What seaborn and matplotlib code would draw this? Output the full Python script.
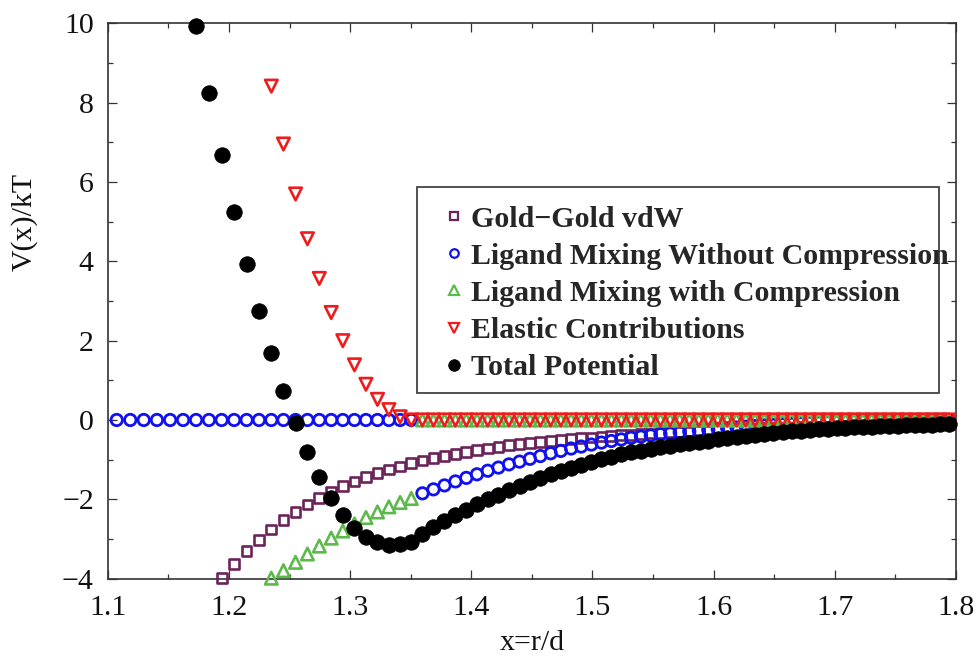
import numpy as np
import pandas as pd
import seaborn as sns
import matplotlib
matplotlib.use("Agg")
import matplotlib.pyplot as plt
from matplotlib.lines import Line2D
from matplotlib.patches import Rectangle
from matplotlib.ticker import MultipleLocator

nan = np.nan

# reduced centre-to-centre distance x = r/d
x_ratio = [
    1.1074, 1.1186, 1.1297, 1.1406, 1.1515, 1.1622, 1.1729, 1.1835, 1.1940, 1.2043,
    1.2146, 1.2248, 1.2350, 1.2450, 1.2550, 1.2648, 1.2746, 1.2844, 1.2940, 1.3036,
    1.3131, 1.3226, 1.3320, 1.3413, 1.3505, 1.3597, 1.3688, 1.3779, 1.3869, 1.3959,
    1.4047, 1.4136, 1.4224, 1.4311, 1.4398, 1.4484, 1.4570, 1.4655, 1.4739, 1.4824,
    1.4907, 1.4991, 1.5074, 1.5156, 1.5238, 1.5319, 1.5400, 1.5481, 1.5561, 1.5641,
    1.5720, 1.5799, 1.5878, 1.5956, 1.6034, 1.6112, 1.6189, 1.6265, 1.6342, 1.6418,
    1.6493, 1.6569, 1.6644, 1.6718, 1.6793, 1.6867, 1.6940, 1.7014, 1.7087, 1.7159,
    1.7232, 1.7304, 1.7376, 1.7447, 1.7518, 1.7589, 1.7660, 1.7730, 1.7800, 1.7870,
    1.7940,
]

# V(x)/kT contributions (nan = outside the plotted range)
vdw_gold = [
    nan, nan, nan, nan, nan, nan, nan, nan, -3.99, -3.63,
    -3.31, -3.02, -2.76, -2.53, -2.32, -2.13, -1.96, -1.81, -1.67, -1.55,
    -1.44, -1.34, -1.25, -1.17, -1.09, -1.02, -0.96, -0.90, -0.85, -0.80,
    -0.76, -0.72, -0.68, -0.64, -0.61, -0.58, -0.55, -0.53, -0.50, -0.48,
    -0.46, -0.44, -0.42, -0.40, -0.38, -0.37, -0.35, -0.34, -0.32, -0.31,
    -0.30, -0.29, -0.28, -0.27, -0.26, -0.25, -0.24, -0.23, -0.22, -0.21,
    -0.205, -0.20, -0.19, -0.185, -0.18, -0.175, -0.17, -0.165, -0.16, -0.155,
    -0.15, -0.145, -0.14, -0.135, -0.13, -0.125, -0.12, -0.12, -0.115, -0.11,
    -0.11,
]

mixing_free = [
    0.0, 0.0, 0.0, 0.0, 0.0, 0.0, 0.0, 0.0, 0.0, 0.0,
    0.0, 0.0, 0.0, 0.0, 0.0, 0.0, 0.0, 0.0, 0.0, 0.0,
    0.0, 0.0, 0.0, 0.0, 0.0, -1.85, -1.75, -1.65, -1.55, -1.46,
    -1.37, -1.28, -1.20, -1.12, -1.05, -0.98, -0.91, -0.84, -0.78, -0.72,
    -0.67, -0.62, -0.57, -0.53, -0.49, -0.45, -0.42, -0.39, -0.36, -0.34,
    -0.31, -0.29, -0.27, -0.25, -0.23, -0.21, -0.19, -0.17, -0.155, -0.14,
    -0.125, -0.11, -0.10, -0.085, -0.075, -0.065, -0.055, -0.045, -0.04, -0.03,
    -0.025, -0.02, -0.015, -0.01, -0.008, -0.005, -0.003, -0.002, -0.001, 0.0,
    0.0,
]

mixing_compressed = [
    nan, nan, nan, nan, nan, nan, nan, nan, nan, nan,
    nan, nan, -3.99, -3.80, -3.59, -3.38, -3.18, -2.98, -2.80, -2.62,
    -2.46, -2.32, -2.19, -2.08, -1.98, 0.0, 0.0, 0.0, 0.0, 0.0,
    0.0, 0.0, 0.0, 0.0, 0.0, 0.0, 0.0, 0.0, 0.0, 0.0,
    0.0, 0.0, 0.0, 0.0, 0.0, 0.0, 0.0, 0.0, 0.0, 0.0,
    0.0, 0.0, 0.0, 0.0, 0.0, 0.0, 0.0, 0.0, 0.0, 0.0,
    0.0, 0.0, 0.0, 0.0, 0.0, 0.0, 0.0, 0.0, 0.0, 0.0,
    0.0, 0.0, 0.0, 0.0, 0.0, 0.0, 0.0, 0.0, 0.0, 0.0,
    0.0,
]

elastic = [
    nan, nan, nan, nan, nan, nan, nan, nan, nan, nan,
    nan, nan, 8.42, 6.96, 5.70, 4.57, 3.57, 2.71, 2.00, 1.39,
    0.90, 0.52, 0.26, 0.08, 0.0, 0.0, 0.0, 0.0, 0.0, 0.0,
    0.0, 0.0, 0.0, 0.0, 0.0, 0.0, 0.0, 0.0, 0.0, 0.0,
    0.0, 0.0, 0.0, 0.0, 0.0, 0.0, 0.0, 0.0, 0.0, 0.0,
    0.0, 0.0, 0.0, 0.0, 0.0, 0.0, 0.0, 0.0, 0.0, 0.0,
    0.0, 0.0, 0.0, 0.0, 0.0, 0.0, 0.0, 0.0, 0.0, 0.0,
    0.0, 0.0, 0.0, 0.0, 0.0, 0.0, 0.0, 0.0, 0.0, 0.0,
    0.0,
]

total = [
    nan, nan, nan, nan, nan, nan, 9.94, 8.25, 6.68, 5.25,
    3.93, 2.76, 1.68, 0.74, -0.08, -0.82, -1.45, -1.98, -2.40, -2.72,
    -2.94, -3.09, -3.15, -3.13, -3.07, -2.88, -2.71, -2.55, -2.40, -2.26,
    -2.13, -2.00, -1.88, -1.76, -1.66, -1.56, -1.46, -1.37, -1.28, -1.20,
    -1.13, -1.06, -0.99, -0.93, -0.87, -0.82, -0.77, -0.73, -0.68, -0.65,
    -0.61, -0.58, -0.55, -0.52, -0.49, -0.46, -0.43, -0.40, -0.375, -0.35,
    -0.33, -0.31, -0.29, -0.27, -0.255, -0.24, -0.225, -0.21, -0.20, -0.185,
    -0.17, -0.165, -0.155, -0.145, -0.14, -0.13, -0.125, -0.12, -0.115, -0.11,
    -0.107,
]

series_labels = [
    "Gold\u2212Gold vdW",
    "Ligand Mixing Without Compression",
    "Ligand Mixing with Compression",
    "Elastic Contributions",
    "Total Potential",
]
x_ticks = [1.1, 1.2, 1.3, 1.4, 1.5, 1.6, 1.7, 1.8]
y_ticks = [-4, -2, 0, 2, 4, 6, 8, 10]

df = pd.DataFrame({
    "x": x_ratio,
    "vdw": vdw_gold,
    "free": mixing_free,
    "comp": mixing_compressed,
    "elastic": elastic,
    "total": total,
})

styles = [
    ("vdw", dict(marker="s", ms=7.0, fc="none", ec="#6b2459", lw=1.9)),
    ("free", dict(marker="o", ms=8.2, fc="none", ec="#1010f0", lw=2.0)),
    ("comp", dict(marker="^", ms=9.0, fc="none", ec="#5dba4a", lw=1.9)),
    ("elastic", dict(marker="v", ms=9.0, fc="none", ec="#ee1c1c", lw=1.9)),
    ("total", dict(marker="o", ms=11.2, fc="black", ec="black", lw=0.5)),
]

sns.set_theme(style="ticks")
plt.rcParams["font.family"] = ["Liberation Serif", "DejaVu Serif"]
plt.rcParams["axes.unicode_minus"] = True

FS = 21.5
fig = plt.figure(figsize=(9.75, 6.58), dpi=100)
ax = fig.add_axes([0.1105, 0.1207, 0.8700, 0.8436])

for z, (key, st) in enumerate(styles):
    sns.scatterplot(
        data=df, x="x", y=key, ax=ax,
        marker=st["marker"], s=st["ms"] ** 2,
        facecolor=st["fc"], edgecolor=st["ec"], linewidth=st["lw"],
        clip_on=False, zorder=3 + z, legend=False,
    )

ax.set_xlim(1.1, 1.8)
ax.set_ylim(-4, 10)
ax.set_xticks(x_ticks)
ax.set_yticks(y_ticks)
ax.xaxis.set_minor_locator(MultipleLocator(0.05))
ax.yaxis.set_minor_locator(MultipleLocator(1))
ax.tick_params(which="both", direction="in", top=True, right=True,
               color="#333333", width=0.9)
ax.tick_params(which="major", length=6.5, labelsize=FS, labelcolor="#111111")
ax.tick_params(which="minor", length=3.5)
ax.tick_params(axis="x", which="major", pad=12)
ax.tick_params(axis="y", which="major", pad=10)
for sp in ax.spines.values():
    sp.set_linewidth(1.2)
    sp.set_color("#333333")

ax.set_xlabel("x=r/d", fontsize=FS, color="#111111")
ax.set_ylabel("V(x)/kT", fontsize=FS, color="#111111")
ax.xaxis.set_label_coords(0.5, -0.093)
ax.yaxis.set_label_coords(-0.083, 0.642)

handles = []
for key, st in styles:
    handles.append(Line2D(
        [], [], linestyle="none", marker=st["marker"],
        markersize=st["ms"] * 0.75, markerfacecolor=st["fc"],
        markeredgecolor=st["ec"], markeredgewidth=min(st["lw"], 1.6),
    ))
leg = ax.legend(
    handles, series_labels, loc="upper left", bbox_to_anchor=(0.398, 0.672),
    frameon=False, borderpad=0, borderaxespad=0, handlelength=0.6,
    handletextpad=0.25, labelspacing=0.34,
    prop={"family": ["Liberation Serif", "DejaVu Serif"], "weight": "bold", "size": FS},
)
leg.set_zorder(20)
ax.add_patch(Rectangle((0.3643, 0.3349), 0.6160, 0.3711, transform=ax.transAxes,
                       fill=False, edgecolor="#333333", linewidth=1.2, zorder=19))

fig.savefig("out.png", dpi=100)
